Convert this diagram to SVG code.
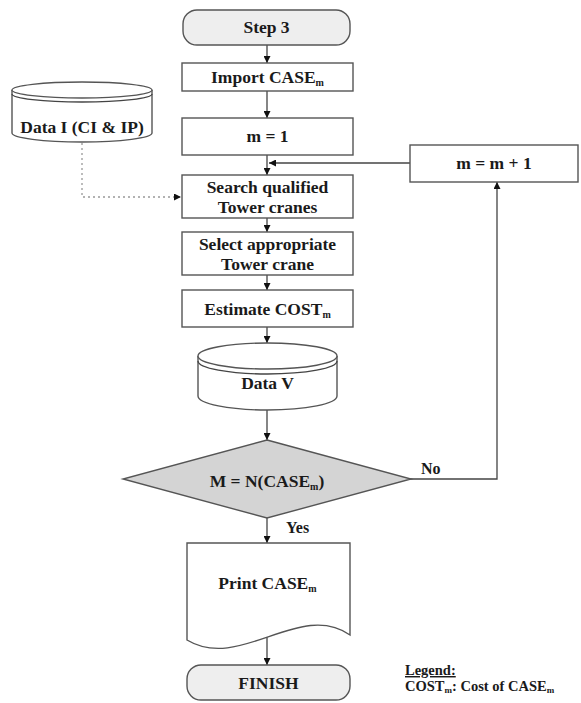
<svg xmlns="http://www.w3.org/2000/svg" width="581" height="703" viewBox="0 0 581 703">
  <defs>
    <style>
      .box { fill: #ffffff; stroke: #555555; stroke-width: 1.4; }
      .term { fill: #eeeeee; stroke: #555555; stroke-width: 1.4; }
      .dec { fill: #d4d4d4; stroke: #555555; stroke-width: 1.4; }
      .line { fill: none; stroke: #444444; stroke-width: 1.3; }
      .dot { fill: none; stroke: #999999; stroke-width: 1.3; stroke-dasharray: 2 3; }
      text { font-family: "Liberation Serif", "DejaVu Serif", serif; font-weight: bold; fill: #1a1a1a; }
      .lbl { font-size: 17.5px; text-anchor: middle; }
      .sub { font-size: 10px; }
      .leg { font-size: 14.5px; }
    </style>
    <marker id="arr" viewBox="0 0 10 10" refX="10" refY="5" markerWidth="7" markerHeight="7" markerUnits="userSpaceOnUse" orient="auto">
      <path d="M0,0 L10,5 L0,10 Z" fill="#111111"/>
    </marker>
  </defs>

  <!-- connectors -->
  <g id="connectors">
    <line class="line" x1="267" y1="45" x2="267" y2="63" marker-end="url(#arr)"/>
    <line class="line" x1="267" y1="91" x2="267" y2="118" marker-end="url(#arr)"/>
    <line class="line" x1="267" y1="155" x2="267" y2="175" marker-end="url(#arr)"/>
    <line class="line" x1="267" y1="218" x2="267" y2="232" marker-end="url(#arr)"/>
    <line class="line" x1="267" y1="275" x2="267" y2="290" marker-end="url(#arr)"/>
    <line class="line" x1="267" y1="327" x2="267" y2="343" marker-end="url(#arr)"/>
    <line class="line" x1="267" y1="410" x2="267" y2="440" marker-end="url(#arr)"/>
    <line class="line" x1="267" y1="518" x2="267" y2="543" marker-end="url(#arr)"/>
    <line class="line" x1="267" y1="636" x2="267" y2="665" marker-end="url(#arr)"/>
    <!-- loop back: No branch -->
    <polyline class="line" points="410,479 497,479 497,182" marker-end="url(#arr)"/>
    <line class="line" x1="410" y1="163" x2="269" y2="163" marker-end="url(#arr)"/>
    <!-- data input -->
    <polyline class="dot" points="82,143 82,197 181,197" marker-end="url(#arr)"/>
    <text x="421" y="474" style="font-size:16px">No</text>
    <text x="286" y="533" style="font-size:16px">Yes</text>
  </g>

  <g id="step3">
    <rect class="term" x="183" y="10" width="167" height="35" rx="14"/>
    <text class="lbl" x="266.5" y="33">Step 3</text>
  </g>

  <g id="import">
    <rect class="box" x="182" y="63" width="171" height="28"/>
    <text class="lbl" x="267.5" y="83">Import CASE<tspan class="sub" dy="3">m</tspan></text>
  </g>

  <g id="init">
    <rect class="box" x="182" y="118" width="171" height="37"/>
    <text class="lbl" x="267.5" y="142">m = 1</text>
  </g>

  <g id="search">
    <rect class="box" x="182" y="175" width="171" height="43"/>
    <text class="lbl" x="267.5" y="193">Search qualified</text>
    <text class="lbl" x="267.5" y="213">Tower cranes</text>
  </g>

  <g id="select">
    <rect class="box" x="182" y="232" width="171" height="43"/>
    <text class="lbl" x="267.5" y="250">Select appropriate</text>
    <text class="lbl" x="267.5" y="270">Tower crane</text>
  </g>

  <g id="estimate">
    <rect class="box" x="182" y="290" width="171" height="37"/>
    <text class="lbl" x="267.5" y="315">Estimate COST<tspan class="sub" dy="3">m</tspan></text>
  </g>

  <g id="data-v">
    <path class="box" d="M198,356 V396 A69.5,14 0 0 0 337,396 V356"/>
    <ellipse class="box" cx="267.5" cy="356" rx="69.5" ry="13"/>
    <path class="line" d="M198,361 A69.5,13 0 0 0 337,361"/>
    <text class="lbl" x="267.5" y="389">Data V</text>
  </g>

  <g id="decision">
    <polygon class="dec" points="267,440 411,479 267,518 123,479"/>
    <text class="lbl" x="267" y="487">M = N(CASE<tspan class="sub" dy="3">m</tspan><tspan dy="-3">)</tspan></text>
  </g>

  <g id="print">
    <path class="box" d="M187,543 H350 V635 C300,600 240,672 187,640 Z"/>
    <text class="lbl" x="267.5" y="589">Print CASE<tspan class="sub" dy="3">m</tspan></text>
  </g>

  <g id="finish">
    <rect class="term" x="187" y="665" width="163" height="35" rx="14"/>
    <text class="lbl" x="268.5" y="689">FINISH</text>
  </g>

  <g id="increment">
    <rect class="box" x="410" y="145" width="168" height="37"/>
    <text class="lbl" x="494" y="169">m = m + 1</text>
  </g>

  <g id="data-i">
    <path class="box" d="M12,90 V133 A70,9 0 0 0 152,133 V90"/>
    <ellipse class="box" cx="82" cy="90" rx="70" ry="8"/>
    <path class="line" d="M12,94 A70,8 0 0 0 152,94"/>
    <text class="lbl" x="82" y="133">Data I (CI &amp; IP)</text>
  </g>

  <g id="legend">
    <text class="leg" x="405" y="675" text-decoration="underline">Legend:</text>
    <text class="leg" x="405" y="691">COST<tspan dy="2" style="font-size:9px">m</tspan><tspan dy="-2">: Cost of CASE</tspan><tspan dy="2" style="font-size:9px">m</tspan></text>
  </g>
</svg>
